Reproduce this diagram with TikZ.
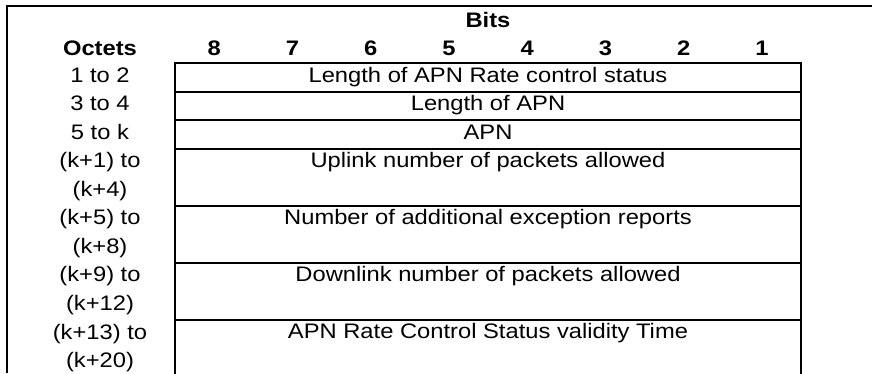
\documentclass[tikz,border=0pt]{standalone}
\usepackage{fontspec}
\setmainfont{Liberation Sans}[FakeStretch=1.13]
\usetikzlibrary{positioning}

\begin{document}
\begin{tikzpicture}[x=1pt, y=-1pt,
    frame/.style={line width=2pt},
    field/.style={draw, line width=2pt, inner sep=0pt, minimum width=626pt, anchor=north},
    txt/.style={anchor=base, inner sep=0pt, font=\fontsize{21}{24}\selectfont},
    head/.style={anchor=base, inner sep=0pt, font=\fontsize{21}{24}\selectfont\bfseries}
]
\useasboundingbox (0,0) rectangle (872,373);

% outer frame (only top and left edges show)
\coordinate (fbl) at (6.5,373);
\coordinate (ftl) at (6.5,5.5);
\coordinate (ftr) at (872,5.5);
\draw[frame] (fbl) -- (ftl) -- (ftr);

% header
\node[head] (bits) at (488,27) {Bits};
\node[head] (octets) at (100,55.5) {Octets};
\foreach \b in {1,...,8}
    \node[head] (bit\b) at ({175+(8.5-\b)*78.25},55.5) {\b};

% fields
\foreach \top/\fh/\name/\txt in {
    62/28.55/lenrcs/Length of APN Rate control status,
    90.55/28.55/lenapn/Length of APN,
    119.1/28.55/apn/APN,
    147.65/57.1/ulpkt/Uplink number of packets allowed,
    204.75/57.1/excrep/Number of additional exception reports,
    261.85/57.1/dlpkt/Downlink number of packets allowed,
    318.95/57.1/valtime/APN Rate Control Status validity Time}
{
    \node[field, minimum height=\fh pt] (\name) at (488,\top) {};
    \node[txt] (\name-t) at (488,\top+20) {\txt};
}

% octet numbers
\foreach \y/\lbl [count=\i] in {
    82/1 to 2, 110.5/3 to 4, 139.1/5 to k,
    167.7/(k+1) to, 196.2/(k+4),
    224.8/(k+5) to, 253.3/(k+8),
    281.9/(k+9) to, 310.4/(k+12),
    339/(k+13) to, 367.5/(k+20)}
    \node[txt] (oct\i) at (100,\y) {\lbl};

\end{tikzpicture}
\end{document}
